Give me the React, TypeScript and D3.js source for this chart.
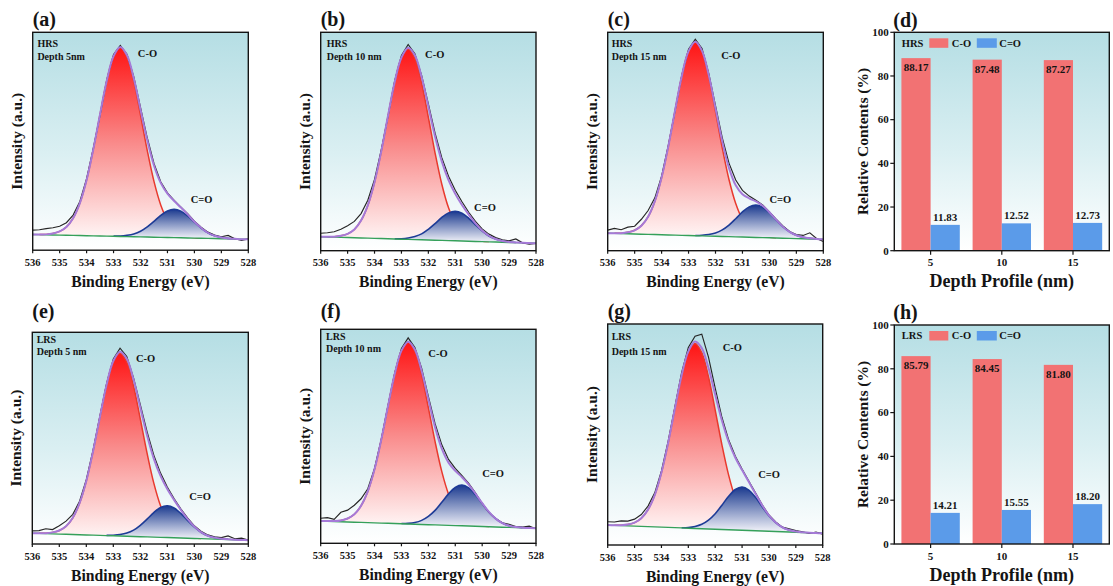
import React from 'react';
import * as d3 from 'd3';

const FONT = "'Liberation Serif','Times New Roman',Times,serif";

// Binding-energy grid (eV) shared by every spectrum
const energyGrid = [536, 535.75, 535.5, 535.25, 535, 534.75, 534.5, 534.25, 534, 533.75, 533.5, 533.25, 533, 532.75, 532.5, 532.25, 532, 531.75, 531.5, 531.25, 531, 530.75, 530.5, 530.25, 530, 529.75, 529.5, 529.25, 529, 528.75, 528.5, 528.25, 528];
const energyTicks = [536, 535, 534, 533, 532, 531, 530, 529, 528];

// (a) HRS, depth 5 nm  (intensities in % of plot height)
const rawA = [9.2, 9.4, 9.9, 10.3, 11.0, 12.6, 16.1, 22.4, 32.8, 46.9, 62.0, 78.3, 89.8, 94.0, 89.9, 79.6, 65.5, 51.6, 39.8, 31.4, 26.3, 22.9, 19.8, 16.8, 13.3, 10.6, 8.3, 7.0, 6.2, 6.8, 5.3, 4.5, 5.2];
const coA = [0, 0.1, 0.2, 0.7, 1.7, 3.8, 7.9, 14.9, 25.6, 39.8, 55.9, 71.4, 82.6, 86.8, 82.6, 71.4, 55.9, 39.8, 25.6, 14.9, 7.9, 3.8, 1.7, 0.7, 0.2, 0.1, 0, 0, 0, 0, 0, 0, 0];
const cdoA = [0, 0, 0, 0, 0, 0, 0, 0, 0, 0, 0, 0, 0.1, 0.2, 0.6, 1.3, 2.6, 4.7, 7.3, 10.1, 12.2, 13.0, 12.2, 10.1, 7.3, 4.7, 2.6, 1.3, 0.6, 0.2, 0.1, 0, 0];
const baseA = [7.2, 5.0];

// (b) HRS, depth 10 nm
const rawB = [8.0, 8.2, 8.7, 9.8, 11.4, 13.4, 17.0, 23.1, 32.6, 46.2, 61.4, 77.9, 89.4, 94.4, 90.2, 80.3, 67.2, 53.8, 42.6, 34.1, 27.7, 22.4, 17.6, 13.4, 10.0, 7.6, 6.0, 5.0, 4.5, 5.4, 3.6, 3.0, 3.3];
const coB = [0, 0.1, 0.2, 0.7, 1.7, 3.8, 8.0, 15.0, 25.7, 39.9, 56.2, 71.8, 83.0, 87.2, 83.0, 71.8, 56.2, 39.9, 25.7, 15.0, 8.0, 3.8, 1.7, 0.7, 0.2, 0.1, 0, 0, 0, 0, 0, 0, 0];
const cdoB = [0, 0, 0, 0, 0, 0, 0, 0, 0, 0, 0, 0.1, 0.2, 0.6, 1.4, 2.7, 4.9, 7.6, 10.5, 12.7, 13.5, 12.7, 10.5, 7.6, 4.9, 2.7, 1.4, 0.6, 0.2, 0.1, 0, 0, 0];
const baseB = [6.4, 3.4];

// (c) HRS, depth 15 nm
const rawC = [9.4, 10.2, 9.6, 10.8, 11.2, 14.4, 18.4, 24.2, 34.1, 48.3, 64.0, 80.4, 92.3, 96.8, 92.6, 81.2, 66.4, 51.8, 40.1, 32.4, 27.6, 25.0, 23.1, 20.9, 17.8, 14.4, 11.3, 8.8, 7.4, 7.0, 8.2, 5.6, 4.2];
const coC = [0, 0.1, 0.2, 0.7, 1.7, 3.9, 8.1, 15.3, 26.2, 40.6, 57.1, 73.0, 84.4, 88.7, 84.4, 73.0, 57.1, 40.6, 26.2, 15.3, 8.1, 3.9, 1.7, 0.7, 0.2, 0.1, 0, 0, 0, 0, 0, 0, 0];
const cdoC = [0, 0, 0, 0, 0, 0, 0, 0, 0, 0, 0, 0, 0, 0.1, 0.3, 0.7, 1.5, 3.0, 5.3, 8.3, 11.5, 13.9, 14.8, 13.9, 11.5, 8.3, 5.3, 3.0, 1.5, 0.7, 0.3, 0.1, 0];
const baseC = [8.0, 5.2];

// (e) LRS, depth 5 nm
const rawE = [6.2, 6.3, 7.2, 6.8, 8.6, 10.8, 14.0, 20.2, 30.4, 44.3, 60.2, 75.8, 87.4, 92.5, 88.6, 78.5, 65.8, 53.1, 42.0, 33.5, 26.9, 21.5, 16.6, 12.3, 8.6, 6.0, 4.3, 3.4, 3.0, 3.8, 2.5, 2.8, 1.9];
const coE = [0, 0.1, 0.2, 0.7, 1.7, 3.8, 7.9, 14.9, 25.5, 39.6, 55.6, 71.1, 82.3, 86.4, 82.3, 71.1, 55.6, 39.6, 25.5, 14.9, 7.9, 3.8, 1.7, 0.7, 0.2, 0.1, 0, 0, 0, 0, 0, 0, 0];
const cdoE = [0, 0, 0, 0, 0, 0, 0, 0, 0, 0, 0, 0.1, 0.3, 0.7, 1.5, 3.0, 5.4, 8.4, 11.6, 14.1, 15.0, 14.1, 11.6, 8.4, 5.4, 3.0, 1.5, 0.7, 0.3, 0.1, 0, 0, 0];
const baseE = [5.1, 1.8];

// (f) LRS, depth 10 nm
const rawF = [11.7, 12.0, 11.2, 14.5, 15.5, 17.8, 20.8, 25.5, 35.0, 48.6, 64.3, 79.6, 91.0, 96.0, 91.5, 81.8, 68.7, 55.9, 46.0, 39.2, 35.0, 31.6, 28.0, 23.6, 18.6, 14.4, 11.6, 9.6, 8.9, 7.8, 7.6, 8.0, 6.8];
const coF = [0, 0.1, 0.2, 0.6, 1.6, 3.7, 7.8, 14.6, 25.0, 38.9, 54.7, 69.9, 80.8, 84.9, 80.8, 69.9, 54.7, 38.9, 25.0, 14.6, 7.8, 3.7, 1.6, 0.6, 0.2, 0.1, 0, 0, 0, 0, 0, 0, 0];
const cdoF = [0, 0, 0, 0, 0, 0, 0, 0, 0, 0, 0, 0, 0.1, 0.3, 0.8, 1.9, 3.9, 6.8, 10.7, 14.7, 17.8, 19.0, 17.8, 14.7, 10.7, 6.8, 3.9, 1.9, 0.8, 0.3, 0.1, 0, 0];
const baseF = [10.4, 7.0];

// (g) LRS, depth 15 nm
const rawG = [10.5, 10.4, 10.9, 10.8, 11.7, 13.8, 17.6, 23.6, 33.5, 47.0, 62.5, 78.0, 89.4, 94.5, 95.4, 85.0, 71.0, 57.8, 47.6, 40.2, 34.4, 29.0, 23.6, 18.2, 13.6, 10.4, 8.1, 7.3, 6.5, 6.0, 5.2, 5.8, 4.9];
const coG = [0, 0.1, 0.2, 0.6, 1.6, 3.7, 7.7, 14.4, 24.7, 38.3, 53.9, 68.9, 79.7, 83.7, 79.7, 68.9, 53.9, 38.3, 24.7, 14.4, 7.7, 3.7, 1.6, 0.6, 0.2, 0.1, 0, 0, 0, 0, 0, 0, 0];
const cdoG = [0, 0, 0, 0, 0, 0, 0, 0, 0, 0, 0, 0.1, 0.3, 0.9, 2.0, 4.0, 7.0, 11.0, 15.1, 18.3, 19.5, 18.3, 15.1, 11.0, 7.0, 4.0, 2.0, 0.9, 0.3, 0.1, 0, 0, 0];
const baseG = [9.0, 5.3];

// Bar charts (d) and (h)
const depthCategories = ['5', '10', '15'];
const seriesNames = ['C-O', 'C=O'];
const hrsCO = [88.17, 87.48, 87.27];
const hrsCdO = [11.83, 12.52, 12.73];
const lrsCO = [85.79, 84.45, 81.80];
const lrsCdO = [14.21, 15.55, 18.20];
const contentTicks = [0, 20, 40, 60, 80, 100];

const INK = '#141414';

const spectra = [
  { id: 'a', frame: { x: 32.7, y: 32.3, w: 215.6, h: 217.9 }, raw: rawA, co: coA, cdo: cdoA, base: baseA, state: 'HRS', depth: 'Depth 5nm', labelY: 26, stateDx: 4.7, stateDy: [15, 27.2], coPos: [532.1, 88.5], cdoPos: [530.14, 21.6] },
  { id: 'b', frame: { x: 320.7, y: 32.3, w: 215.3, h: 218.4 }, raw: rawB, co: coB, cdo: cdoB, base: baseB, state: 'HRS', depth: 'Depth 10 nm', labelY: 26, stateDx: 6, stateDy: [14.4, 27.5], coPos: [532.12, 88.2], cdoPos: [530.3, 18.3] },
  { id: 'c', frame: { x: 607.7, y: 32.3, w: 215.6, h: 218.4 }, raw: rawC, co: coC, cdo: cdoC, base: baseC, state: 'HRS', depth: 'Depth 15 nm', labelY: 26, stateDx: 4, stateDy: [14.4, 27.5], coPos: [531.79, 87.8], cdoPos: [530.0, 22] },
  { id: 'e', frame: { x: 32.3, y: 332.3, w: 216, h: 211.7 }, raw: rawE, co: coE, cdo: cdoE, base: baseE, state: 'LRS', depth: 'Depth 5 nm', labelY: 318, stateDx: 4.4, stateDy: [10.4, 22.4], coPos: [532.16, 86], cdoPos: [530.19, 20.9] },
  { id: 'f', frame: { x: 320.7, y: 329.3, w: 215.3, h: 214 }, raw: rawF, co: coF, cdo: cdoF, base: baseF, state: 'LRS', depth: 'Depth 10 nm', labelY: 318, stateDx: 5.3, stateDy: [10.7, 22.7], coPos: [532.0, 86.9], cdoPos: [530.0, 31.1] },
  { id: 'g', frame: { x: 607.7, y: 324, w: 215, h: 221 }, raw: rawG, co: coG, cdo: cdoG, base: baseG, state: 'LRS', depth: 'Depth 15 nm', labelY: 318, stateDx: 4, stateDy: [16, 31], coPos: [531.72, 87.9], cdoPos: [530.4, 30.2] },
];

const bars = [
  { id: 'd', frame: { x: 894.3, y: 32.3, w: 215, h: 218.4 }, state: 'HRS', co: hrsCO, cdo: hrsCdO, labelY: 27 },
  { id: 'h', frame: { x: 894.3, y: 325, w: 215, h: 219 }, state: 'LRS', co: lrsCO, cdo: lrsCdO, labelY: 319 },
];

function Spectrum(p: any) {
  const f = p.frame;
  const bottom = f.y + f.h;
  const xs = d3.scaleLinear().domain([536, 528]).range([f.x, f.x + f.w]);
  const ys = d3.scaleLinear().domain([0, 100]).range([bottom, f.y]);
  const bl = d3.scaleLinear().domain([536, 528]).range(p.base);
  const pts = energyGrid.map((e, i) => {
    const b = bl(e);
    return { e, b, co: p.co[i], cdo: p.cdo[i], raw: p.raw[i], env: b + p.co[i] + p.cdo[i] };
  });
  const curve = d3.curveCatmullRom.alpha(0.5);
  const coArea = d3.area<any>().defined((d) => d.co > 0).x((d) => xs(d.e)).y0((d) => ys(d.b)).y1((d) => ys(d.b + d.co)).curve(curve);
  const coLine = d3.line<any>().defined((d) => d.co > 0).x((d) => xs(d.e)).y((d) => ys(d.b + d.co)).curve(curve);
  const cdoArea = d3.area<any>().defined((d) => d.cdo > 0).x((d) => xs(d.e)).y0((d) => ys(d.b)).y1((d) => ys(d.b + d.cdo)).curve(curve);
  const cdoLine = d3.line<any>().defined((d) => d.cdo > 0).x((d) => xs(d.e)).y((d) => ys(d.b + d.cdo)).curve(curve);
  const baseLine = d3.line<any>().x((d) => xs(d.e)).y((d) => ys(d.b));
  const envLine = d3.line<any>().x((d) => xs(d.e)).y((d) => ys(d.env)).curve(curve);
  const rawLine = d3.line<any>().x((d) => xs(d.e)).y((d) => ys(d.raw));
  const clipId = `clip-${p.id}`;
  return (
    <g>
      <clipPath id={clipId}>
        <rect x={f.x} y={f.y} width={f.w} height={f.h} />
      </clipPath>
      <rect x={f.x} y={f.y} width={f.w} height={f.h} fill="url(#bgGrad)" />
      <g clipPath={`url(#${clipId})`}>
        <path d={coArea(pts) || ''} fill="url(#coGrad)" />
        <path d={coLine(pts) || ''} fill="none" stroke="#e83a2e" strokeWidth={1.5} />
        <path d={cdoArea(pts) || ''} fill="url(#cdoGrad)" />
        <path d={cdoLine(pts) || ''} fill="none" stroke="#1d3b96" strokeWidth={1.6} />
        <path d={baseLine(pts) || ''} fill="none" stroke="#35a05a" strokeWidth={1.4} />
        <path d={rawLine(pts) || ''} fill="none" stroke="#262626" strokeWidth={1.15} />
        <path d={envLine(pts) || ''} fill="none" stroke="#a57ad8" strokeWidth={2} />
      </g>
      <rect x={f.x} y={f.y} width={f.w} height={f.h} fill="none" stroke={INK} strokeWidth={1.4} />
      {energyTicks.map((t) => (
        <g key={t}>
          <line x1={xs(t)} x2={xs(t)} y1={bottom} y2={bottom + 3} stroke={INK} strokeWidth={1.2} />
          <text x={xs(t)} y={bottom + 15.5} textAnchor="middle" fontSize={10.5} fontWeight="bold" fill={INK}>{t}</text>
        </g>
      ))}
      <text x={f.x} y={p.labelY} fontSize={20} fontWeight="bold" fill={INK}>({p.id})</text>
      <text x={f.x + p.stateDx} y={f.y + p.stateDy[0]} fontSize={10} fontWeight="bold" fill={INK}>{p.state}</text>
      <text x={f.x + p.stateDx} y={f.y + p.stateDy[1]} fontSize={10} fontWeight="bold" fill={INK}>{p.depth}</text>
      <text x={xs(p.coPos[0])} y={ys(p.coPos[1])} fontSize={10.5} fontWeight="bold" fill={INK}>C-O</text>
      <text x={xs(p.cdoPos[0])} y={ys(p.cdoPos[1])} fontSize={10.5} fontWeight="bold" fill={INK}>C=O</text>
      <text x={f.x + f.w / 2} y={bottom + 36.5} textAnchor="middle" fontSize={15.7} fontWeight="bold" fill={INK}>Binding Energy (eV)</text>
      <text transform={`translate(${f.x - 11},${f.y + f.h / 2}) rotate(-90)`} textAnchor="middle" fontSize={15.5} fontWeight="bold" fill={INK}>Intensity (a.u.)</text>
    </g>
  );
}

function Bars(p: any) {
  const f = p.frame;
  const bottom = f.y + f.h;
  const x0 = d3.scaleBand<string>().domain(depthCategories).range([f.x, f.x + f.w]).paddingInner(0.18).paddingOuter(0.1);
  const x1 = d3.scaleBand<string>().domain(seriesNames).range([0, x0.bandwidth()]);
  const ys = d3.scaleLinear().domain([0, 100]).range([bottom, f.y]);
  const bw = x1.bandwidth();
  return (
    <g>
      <rect x={f.x} y={f.y} width={f.w} height={f.h} fill="url(#bgGrad)" />
      {depthCategories.map((c, i) => {
        const gx = x0(c) as number;
        const xCO = gx + (x1('C-O') as number);
        const xCdO = gx + (x1('C=O') as number);
        return (
          <g key={c}>
            <rect x={xCO} y={ys(p.co[i])} width={bw} height={bottom - ys(p.co[i])} fill="#f27273" />
            <rect x={xCdO} y={ys(p.cdo[i])} width={bw} height={bottom - ys(p.cdo[i])} fill="#5b9be9" />
            <text x={xCO + bw / 2} y={ys(p.co[i]) + 13} textAnchor="middle" fontSize={11} fontWeight="bold" fill={INK}>{p.co[i].toFixed(2)}</text>
            <text x={xCdO + bw / 2} y={ys(p.cdo[i]) - 4} textAnchor="middle" fontSize={11} fontWeight="bold" fill={INK}>{p.cdo[i].toFixed(2)}</text>
          </g>
        );
      })}
      <rect x={f.x} y={f.y} width={f.w} height={f.h} fill="none" stroke={INK} strokeWidth={1.4} />
      {contentTicks.map((t) => (
        <g key={t}>
          <line x1={f.x - 4} x2={f.x} y1={ys(t)} y2={ys(t)} stroke={INK} strokeWidth={1.2} />
          <text x={f.x - 5.5} y={ys(t) + 3.8} textAnchor="end" fontSize={11} fontWeight="bold" fill={INK}>{t}</text>
        </g>
      ))}
      {depthCategories.map((c) => {
        const cx = (x0(c) as number) + x0.bandwidth() / 2;
        return (
          <g key={c}>
            <line x1={cx} x2={cx} y1={bottom} y2={bottom + 4} stroke={INK} strokeWidth={1.2} />
            <text x={cx} y={bottom + 15.5} textAnchor="middle" fontSize={11} fontWeight="bold" fill={INK}>{c}</text>
          </g>
        );
      })}
      <text x={f.x + 7.5} y={f.y + 14.4} fontSize={10.5} fontWeight="bold" fill={INK}>{p.state}</text>
      <rect x={f.x + 35} y={f.y + 6} width={19} height={9.5} fill="#f27273" />
      <text x={f.x + 57.5} y={f.y + 14.4} fontSize={10.5} fontWeight="bold" fill={INK}>C-O</text>
      <rect x={f.x + 82.5} y={f.y + 6} width={20} height={9.5} fill="#5b9be9" />
      <text x={f.x + 105} y={f.y + 14.4} fontSize={10.5} fontWeight="bold" fill={INK}>C=O</text>
      <text x={f.x - 1} y={p.labelY} fontSize={20} fontWeight="bold" fill={INK}>({p.id})</text>
      <text x={f.x + f.w / 2} y={bottom + 36.5} textAnchor="middle" fontSize={18} fontWeight="bold" fill={INK}>Depth Profile (nm)</text>
      <text transform={`translate(${f.x - 26},${f.y + f.h / 2}) rotate(-90)`} textAnchor="middle" fontSize={15.5} fontWeight="bold" fill={INK}>Relative Contents (%)</text>
    </g>
  );
}

export default function App() {
  return (
    <svg width={1113} height={586} style={{ position: 'absolute', left: 0, top: 0, display: 'block' }} fontFamily={FONT}>
      <defs>
        <linearGradient id="bgGrad" x1="0" y1="0" x2="0" y2="1">
          <stop offset="0" stopColor="#b5dee4" />
          <stop offset="0.55" stopColor="#daeff2" />
          <stop offset="1" stopColor="#ffffff" />
        </linearGradient>
        <linearGradient id="coGrad" x1="0" y1="0" x2="0" y2="1">
          <stop offset="0" stopColor="#ff1414" />
          <stop offset="0.5" stopColor="#f98a8a" />
          <stop offset="1" stopColor="#fff6f6" />
        </linearGradient>
        <linearGradient id="cdoGrad" x1="0" y1="0" x2="0" y2="1">
          <stop offset="0" stopColor="#1b3a8f" />
          <stop offset="1" stopColor="#f6f6fb" />
        </linearGradient>
      </defs>
      <rect x={0} y={0} width={1113} height={586} fill="#ffffff" />
      {spectra.map((s) => (
        <Spectrum key={s.id} {...s} />
      ))}
      {bars.map((b) => (
        <Bars key={b.id} {...b} />
      ))}
    </svg>
  );
}
